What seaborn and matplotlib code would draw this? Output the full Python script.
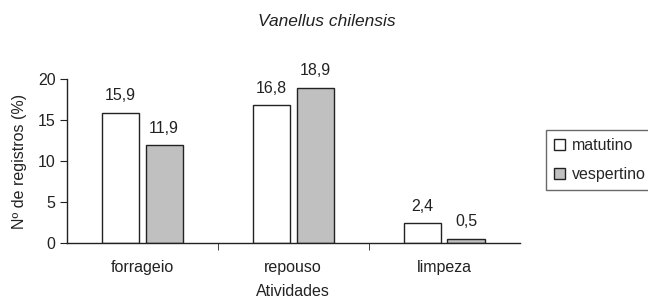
import matplotlib
matplotlib.use("Agg")
import matplotlib.pyplot as plt
import seaborn as sns
import pandas as pd

# dados
atividades = ["forrageio", "repouso", "limpeza"]
matutino = [15.9, 16.8, 2.4]
vespertino = [11.9, 18.9, 0.5]
periodos = ["matutino", "vespertino"]

df = pd.DataFrame({
    "Atividades": atividades * 2,
    "valor": matutino + vespertino,
    "periodo": ["matutino"] * 3 + ["vespertino"] * 3,
})

sns.set_style("white")
plt.rcParams["font.family"] = ["Liberation Sans", "DejaVu Sans"]
FS = 11.5

fig = plt.figure(figsize=(6.48, 3.05), dpi=100)
ax = fig.add_axes([0.103, 0.203, 0.699, 0.538])

sns.barplot(data=df, x="Atividades", y="valor", hue="periodo",
            hue_order=periodos, palette=["white", "#c0c0c0"],
            width=0.58, gap=0.15, edgecolor="#222222", linewidth=1.0,
            saturation=1, ax=ax, legend=False)

for cont, vals in zip(ax.containers, [matutino, vespertino]):
    ax.bar_label(cont, labels=[f"{v:.1f}".replace(".", ",") for v in vals],
                 padding=7, fontsize=FS, color="#222222")

ax.set_ylim(0, 20)
ax.set_yticks([0, 5, 10, 15, 20])
ax.set_xlim(-0.5, 2.5)
ax.set_xticks([0.5, 1.5], minor=True)
ax.tick_params(axis="x", which="major", length=0, pad=12, labelsize=FS, colors="#222222")
ax.tick_params(axis="x", which="minor", length=5, direction="out", color="#222222", bottom=True)
ax.tick_params(axis="y", length=5, direction="out", color="#222222", left=True,
               labelsize=FS, pad=3, labelcolor="#222222")
for s in ["top", "right"]:
    ax.spines[s].set_visible(False)
for s in ["left", "bottom"]:
    ax.spines[s].set_color("#222222")
    ax.spines[s].set_linewidth(1.0)

ax.set_xlabel("Atividades", fontsize=FS, labelpad=7, color="#222222")
ax.set_ylabel("Nº de registros (%)", fontsize=FS, labelpad=8, color="#222222")

fig.text(0.505, 0.93, "Vanellus chilensis", style="italic", fontsize=12.5,
         ha="center", va="center", color="#222222")

handles = [plt.Rectangle((0, 0), 1, 1, facecolor=c, edgecolor="#222222", linewidth=1.0)
           for c in ["white", "#c0c0c0"]]
leg = fig.legend(handles, periodos, loc="center left", bbox_to_anchor=(0.843, 0.475),
                 fontsize=FS, frameon=True, fancybox=False, handlelength=0.7,
                 handleheight=0.7, handletextpad=0.4, borderpad=0.5,
                 labelspacing=0.85, borderaxespad=0)
leg.get_frame().set_edgecolor("#444444")
leg.get_frame().set_linewidth(1.0)

fig.savefig("out.png", dpi=100)
